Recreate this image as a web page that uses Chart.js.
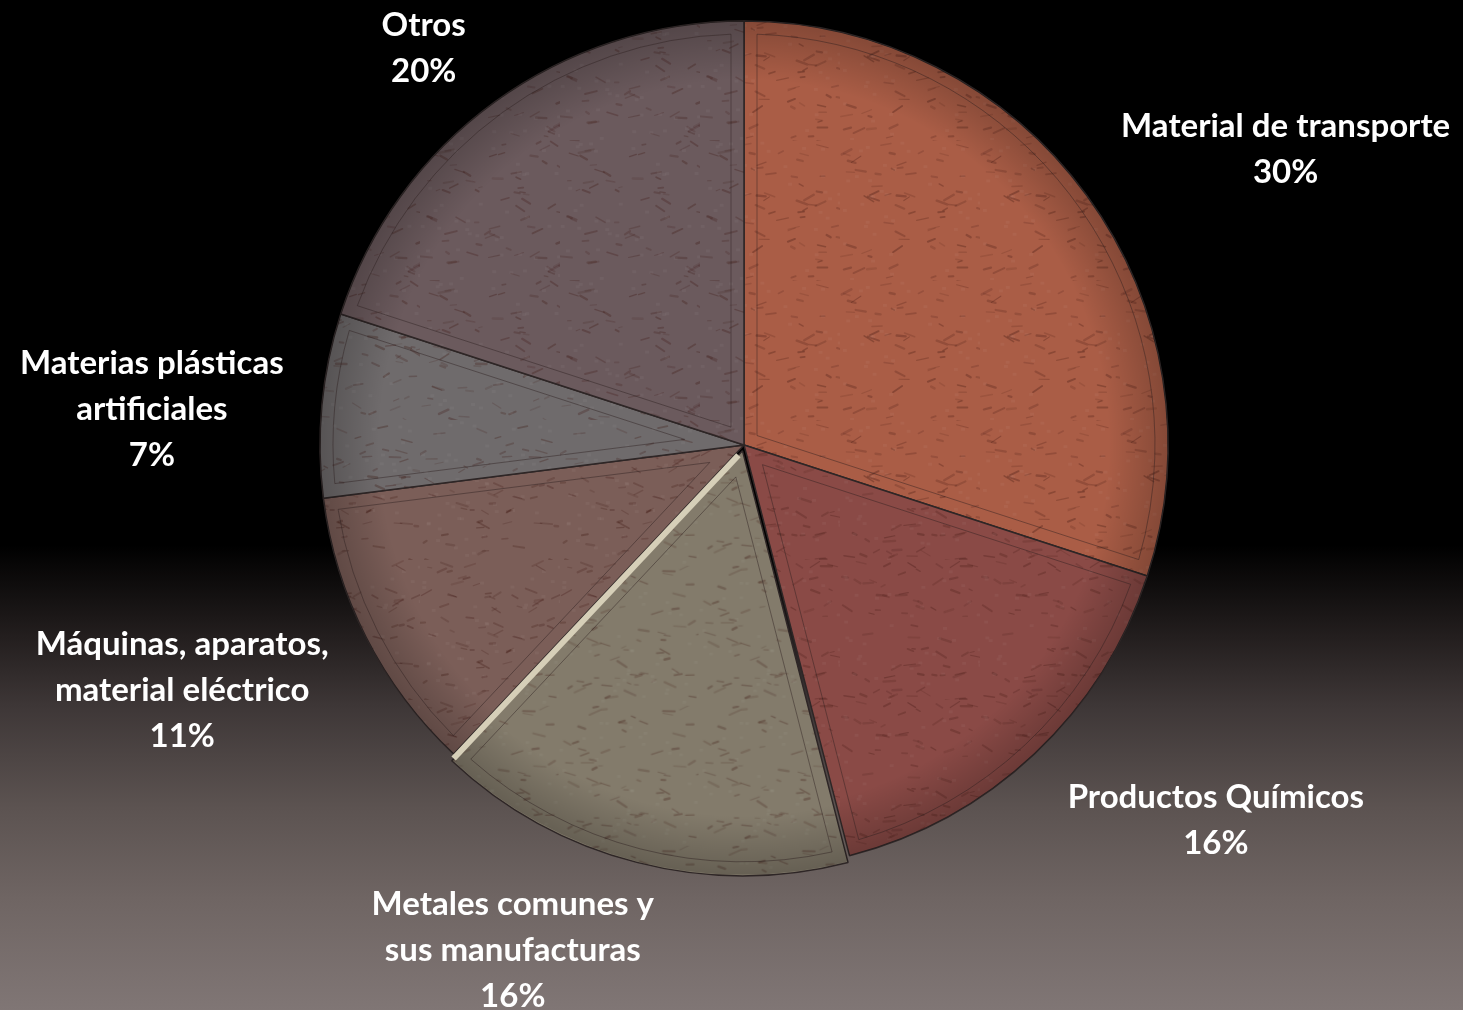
<!DOCTYPE html>
<html lang="es">
<head>
<meta charset="utf-8">
<title>Exportaciones por sector</title>
<script src="https://cdn.jsdelivr.net/npm/chart.js@4/dist/chart.umd.min.js"></script>
<style>
  html, body { margin: 0; padding: 0; }
  body {
    width: 1463px; height: 1010px; overflow: hidden;
    background: linear-gradient(to bottom, #000 0%, #000 54%, #231e1e 63%, #3e3737 70%, #5c5351 80%, #6f6563 89%, #807675 100%);
  }
  canvas { display: block; }
</style>
</head>
<body>
<canvas id="pie" width="1463" height="1010"></canvas>
<script>
// Sectores, en el orden de las agujas del reloj desde las 12
const sectores = [
  ['Material de transporte'],
  ['Productos Químicos'],
  ['Metales comunes y', 'sus manufacturas'],
  ['Máquinas, aparatos,', 'material eléctrico'],
  ['Materias plásticas', 'artificiales'],
  ['Otros']
];
const porcentajes = [30, 16, 16, 11, 7, 20];
const colores = ['#aa5d46', '#8a4a46', '#837b6b', '#7b5e58', '#6f6b6c', '#6b5a5d'];
const desplazamiento = [0, 0, 24, 0, 0, 0];   // sólo "Metales" sale del pastel

// dónde va cada etiqueta: distancia (en radios) y giro (grados) respecto al centro del sector
const etiquetaDist = [1.455, 1.422, 1.31, 1.446, 1.399, 1.203];
const etiquetaGiro = [7.4, -8.3, 10.2, 3.4, -2.0, -2.9];

// textura moteada de cada sector (generador fijo para que siempre salga igual)
function textura(color, semilla) {
  const c = document.createElement('canvas');
  c.width = 140; c.height = 140;
  const g = c.getContext('2d');
  g.fillStyle = color;
  g.fillRect(0, 0, 140, 140);
  let s = semilla;
  const rnd = () => { s = (s * 1103515245 + 12345) % 2147483648; return s / 2147483648; };
  g.lineCap = 'round';
  for (let i = 0; i < 70; i++) {
    const x = rnd() * 140, y = rnd() * 140;
    const len = 3 + rnd() * 9, ang = (rnd() - 0.5) * 1.2;
    g.strokeStyle = 'rgba(60,20,15,' + (0.12 + rnd() * 0.18).toFixed(2) + ')';
    g.lineWidth = 1 + rnd() * 1.5;
    g.beginPath();
    g.moveTo(x, y);
    g.lineTo(x + Math.cos(ang) * len, y + Math.sin(ang) * len);
    g.stroke();
  }
  for (let i = 0; i < 40; i++) {
    g.fillStyle = 'rgba(255,255,255,0.04)';
    g.fillRect(rnd() * 140, rnd() * 140, 4, 3);
  }
  return g.createPattern(c, 'repeat');
}

function trazoSector(ctx, a, dentro) {
  const off = (a.options.offset || 0) / 4;
  const mid = (a.startAngle + a.endAngle) / 2;
  const cx = a.x + Math.cos(mid) * off, cy = a.y + Math.sin(mid) * off;
  const half = (a.endAngle - a.startAngle) / 2;
  const r = a.outerRadius - dentro;
  const da = dentro ? Math.asin(dentro / r) : 0;
  const ap = dentro ? dentro / Math.sin(half) : 0;
  ctx.beginPath();
  ctx.moveTo(cx + Math.cos(mid) * ap, cy + Math.sin(mid) * ap);
  ctx.arc(cx, cy, r, a.startAngle + da, a.endAngle - da);
  ctx.closePath();
  return { cx, cy };
}

// sombra del borde, línea interior y bisel claro de "Metales"
const relieve = {
  id: 'relieve',
  afterDatasetsDraw(chart) {
    const ctx = chart.ctx;
    chart.getDatasetMeta(0).data.forEach((a, i) => {
      ctx.save();
      const { cx, cy } = trazoSector(ctx, a, 0);
      ctx.clip();
      const g = ctx.createRadialGradient(cx, cy, a.outerRadius * 0.86, cx, cy, a.outerRadius);
      g.addColorStop(0, 'rgba(0,0,0,0)');
      g.addColorStop(1, 'rgba(0,0,0,0.22)');
      ctx.fillStyle = g;
      ctx.fillRect(cx - a.outerRadius, cy - a.outerRadius, a.outerRadius * 2, a.outerRadius * 2);
      trazoSector(ctx, a, 13);
      ctx.strokeStyle = 'rgba(45,30,30,0.45)';
      ctx.lineWidth = 1;
      ctx.stroke();
      ctx.restore();
      if (i === 2) {
        ctx.save();
        ctx.strokeStyle = '#d6cfb8';
        ctx.lineWidth = 6;
        ctx.beginPath();
        ctx.moveTo(cx + Math.cos(a.endAngle) * 6, cy + Math.sin(a.endAngle) * 6);
        ctx.lineTo(cx + Math.cos(a.endAngle) * (a.outerRadius - 2), cy + Math.sin(a.endAngle) * (a.outerRadius - 2));
        ctx.stroke();
        ctx.restore();
      }
    });
  }
};

// etiquetas fuera del pastel: nombre y porcentaje
const etiquetas = {
  id: 'etiquetas',
  afterDraw(chart) {
    const ctx = chart.ctx;
    ctx.save();
    ctx.fillStyle = '#fff';
    ctx.font = 'bold 33px Lato';
    ctx.textAlign = 'center';
    ctx.textBaseline = 'middle';
    chart.getDatasetMeta(0).data.forEach((a, i) => {
      const mid = (a.startAngle + a.endAngle) / 2 + etiquetaGiro[i] * Math.PI / 180;
      const d = a.outerRadius * etiquetaDist[i];
      const x = a.x + Math.cos(mid) * d, y = a.y + Math.sin(mid) * d;
      const lineas = sectores[i].concat(porcentajes[i] + '%');
      const alto = 46;
      lineas.forEach((t, k) => {
        ctx.fillText(t, x, y + (k - (lineas.length - 1) / 2) * alto);
      });
    });
    ctx.restore();
  }
};

new Chart(document.getElementById('pie'), {
  type: 'pie',
  data: {
    labels: sectores.map(s => s.join(' ')),
    datasets: [{
      data: porcentajes,
      backgroundColor: colores.map((c, i) => textura(c, 17 + i * 331)),
      borderColor: '#2e2626',
      borderWidth: 1.5,
      offset: desplazamiento,
      radius: 424
    }]
  },
  options: {
    responsive: false,
    animation: false,
    events: [],
    layout: { padding: { left: 320, right: 295, top: 21, bottom: 141 } },
    plugins: {
      legend: { display: false },
      tooltip: { enabled: false }
    }
  },
  plugins: [relieve, etiquetas]
});
</script>
</body>
</html>
